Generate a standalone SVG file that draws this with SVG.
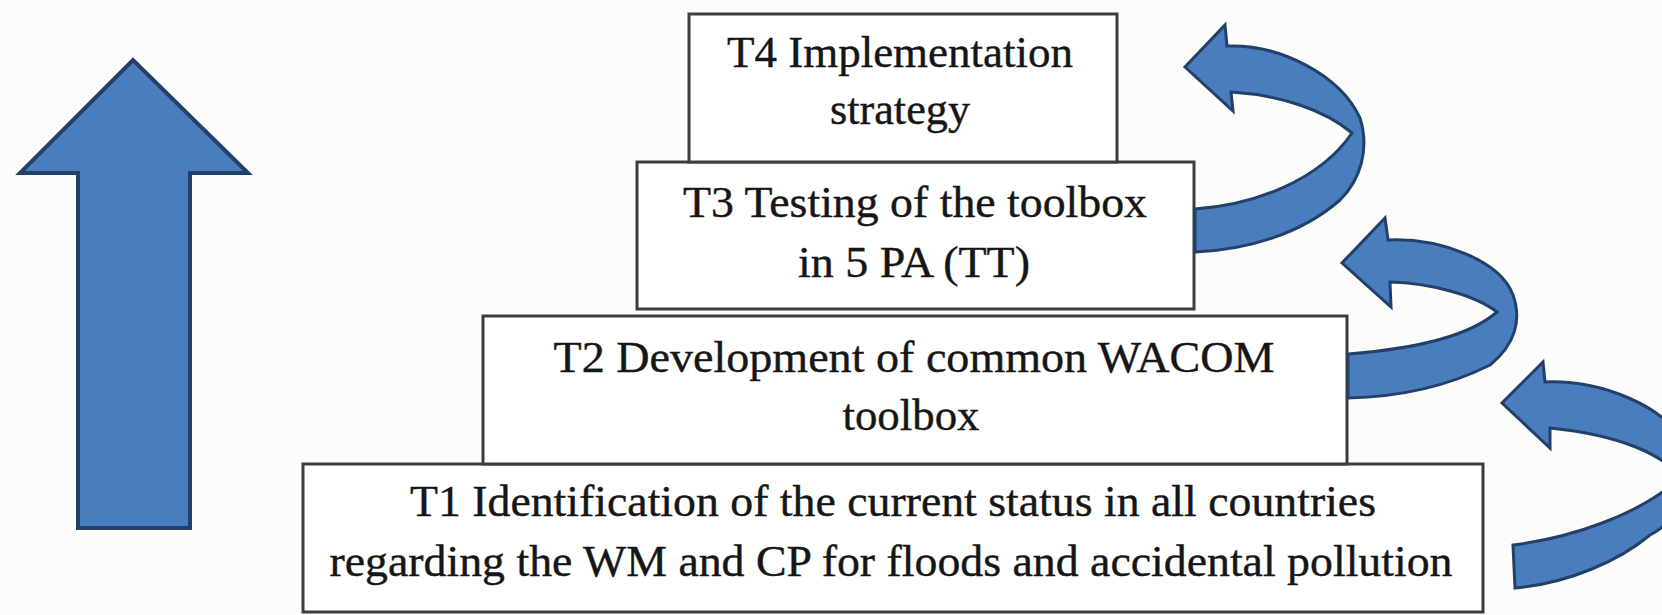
<svg xmlns="http://www.w3.org/2000/svg" width="1662" height="615" viewBox="0 0 1662 615">
  <style>
    .box { fill: #ffffff; stroke: #3c3c3c; stroke-width: 3; }
    .lbl { font-family: "Liberation Serif", "Times New Roman", "DejaVu Serif", serif; font-size: 44px; fill: #161616; stroke: #161616; stroke-width: 0.4; text-anchor: middle; }
    .arr { fill: #4a7dbd; stroke: #22406a; stroke-width: 3; stroke-linejoin: miter; }
    .big { stroke-width: 4; }
  </style>
  <rect x="0" y="0" width="1662" height="615" fill="#fcfcfa"/>

  <g id="progress-arrow">
    <path class="arr big" d="M78,528 L78,173 L20,173 L133,60 L248,173 L190,173 L190,528 Z"/>
  </g>

  <g id="t1">
    <rect class="box" x="303" y="464" width="1180" height="148"/>
    <text class="lbl" x="893" y="516" textLength="966" lengthAdjust="spacingAndGlyphs">T1 Identification of the current status in all countries</text>
    <text class="lbl" x="891" y="576" textLength="1123" lengthAdjust="spacingAndGlyphs">regarding the WM and CP for floods and accidental pollution</text>
  </g>

  <g id="t2">
    <rect class="box" x="483" y="316" width="864" height="148"/>
    <text class="lbl" x="914" y="372" textLength="721" lengthAdjust="spacingAndGlyphs">T2 Development of common WACOM</text>
    <text class="lbl" x="911" y="430" textLength="137" lengthAdjust="spacingAndGlyphs">toolbox</text>
  </g>

  <g id="t3">
    <rect class="box" x="637" y="162" width="557" height="147"/>
    <text class="lbl" x="915" y="217" textLength="464" lengthAdjust="spacingAndGlyphs">T3 Testing of the toolbox</text>
    <text class="lbl" x="914" y="277" textLength="232" lengthAdjust="spacingAndGlyphs">in 5 PA (TT)</text>
  </g>

  <g id="t4">
    <rect class="box" x="689" y="14" width="428" height="148"/>
    <text class="lbl" x="900" y="67" textLength="346" lengthAdjust="spacingAndGlyphs">T4 Implementation</text>
    <text class="lbl" x="900" y="124" textLength="140" lengthAdjust="spacingAndGlyphs">strategy</text>
  </g>

  <g id="connectors">
    <path id="c-t3-t4" class="arr" d="M1195,209 C1255,205 1320,180 1352,133 C1325,110 1280,95 1231,92 L1233,111 L1185,67 L1225,25 L1227,46 C1280,44 1340,75 1360,118 C1370,150 1360,180 1340,200 C1300,235 1245,250 1195,252 Z"/>
    <path id="c-t2-t3" class="arr" d="M1348,354 C1400,350 1465,340 1497,312 C1475,295 1430,283 1390,282 L1391,307 L1342,263 L1385,218 L1388,240 C1440,238 1500,260 1513,295 C1522,320 1515,345 1490,365 C1450,385 1400,397 1348,398 Z"/>
    <path id="c-t1-t2" class="arr" d="M1513,545 C1570,538 1640,515 1680,478 C1665,455 1620,435 1550,428 L1550,448 L1502,403 L1543,362 L1545,382 C1600,380 1665,405 1685,445 C1700,480 1680,520 1650,535 C1620,560 1570,583 1515,588 Z"/>
  </g>
</svg>
